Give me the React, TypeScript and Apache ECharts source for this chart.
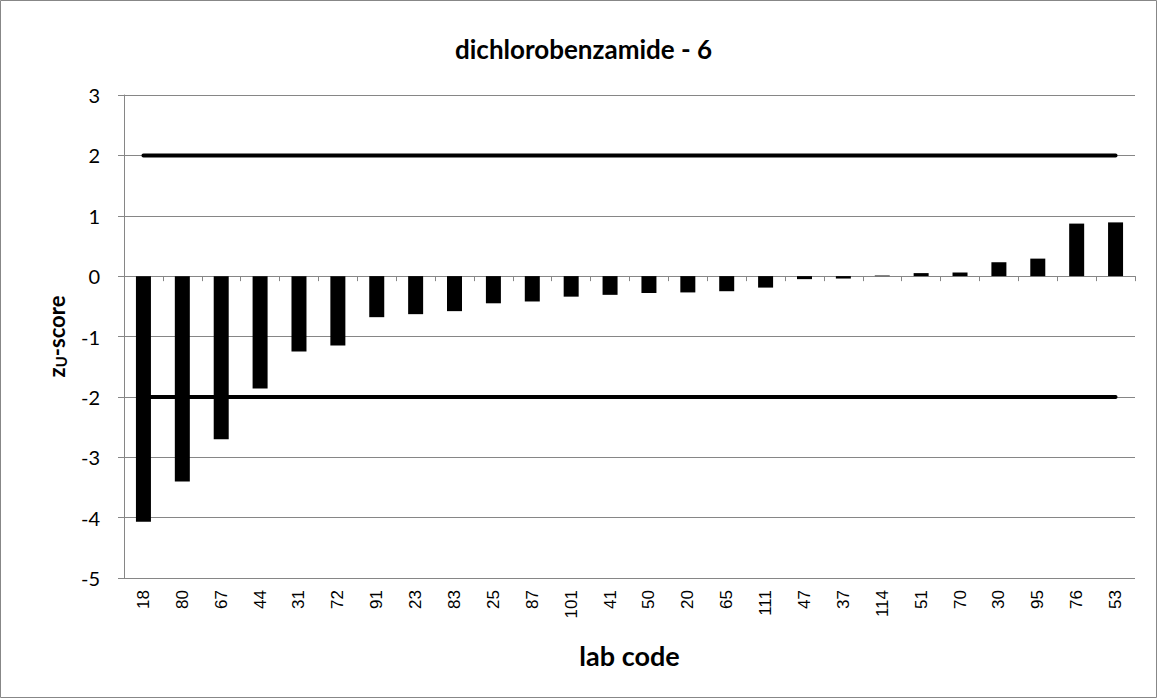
import React, { useEffect, useRef } from "react";
import * as echarts from "echarts";

const labCodes = ["18","80","67","44","31","72","91","23","83","25","87","101","41","50","20","65","111","47","37","114","51","70","30","95","76","53"];
const zScores = [-4.07,-3.4,-2.7,-1.86,-1.25,-1.15,-0.68,-0.63,-0.58,-0.45,-0.42,-0.34,-0.31,-0.28,-0.27,-0.25,-0.19,-0.05,-0.04,0.01,0.05,0.06,0.23,0.29,0.87,0.89];
const upperLimit = labCodes.map(() => 2);
const lowerLimit = labCodes.map(() => -2);
const yTicks = { min: -5, max: 3, interval: 1 };

const FONT = "Lato, 'Open Sans', sans-serif";
const TICK_FONT = "'Liberation Sans', Arial, sans-serif";

export default function App() {
  const ref = useRef<HTMLDivElement>(null);
  useEffect(() => {
    const chart = echarts.init(ref.current!, undefined, { renderer: "svg" });
    chart.setOption({
      animation: false,
      backgroundColor: "#fff",
      title: {
        text: "dichlorobenzamide - 6",
        left: 450,
        top: 31,
        textStyle: { fontFamily: FONT, fontSize: 26, fontWeight: "bold", color: "#000" },
      },
      graphic: [
        { type: "rect", shape: { x: 0.5, y: 0.5, width: 1156, height: 697 }, style: { fill: "none", stroke: "#878787", lineWidth: 1 }, silent: true },
      ],
      grid: { left: 124, right: 22, top: 95, bottom: 120 },
      xAxis: [
        {
          type: "category",
          data: labCodes,
          position: "bottom",
          axisLine: { show: false, onZero: false },
          axisTick: { show: false },
          axisLabel: { rotate: 90, interval: 0, fontFamily: TICK_FONT, fontSize: 17, color: "#000", margin: 12 },
          name: "lab code",
          nameLocation: "middle",
          nameGap: 64,
          nameTextStyle: { fontFamily: FONT, fontSize: 27, fontWeight: "bold", color: "#000" },
        },
        {
          type: "category",
          data: labCodes,
          position: "top",
          axisLine: { show: true, onZero: true, lineStyle: { color: "#868686", width: 1 } },
          axisTick: { show: true, inside: true, length: 5, interval: 0, lineStyle: { color: "#868686" } },
          axisLabel: { show: false },
        },
      ],
      yAxis: {
        type: "value",
        min: yTicks.min,
        max: yTicks.max,
        interval: yTicks.interval,
        axisLine: { show: true, lineStyle: { color: "#868686" } },
        axisTick: { show: true, length: 6, lineStyle: { color: "#868686" } },
        splitLine: { lineStyle: { color: "#868686", width: 1 } },
        axisLabel: { fontFamily: FONT, fontSize: 20, color: "#000", margin: 24 },
        name: "{a|z}{b|U}{a|-score}",
        nameLocation: "middle",
        nameGap: 56,
        nameTextStyle: {
          rich: {
            a: { fontFamily: FONT, fontSize: 22, fontWeight: "bold", color: "#000" },
            b: { fontFamily: FONT, fontSize: 15, fontWeight: "bold", color: "#000", padding: [9, 0, 0, 0] },
          },
        },
      },
      series: [
        {
          type: "bar",
          data: zScores,
          xAxisIndex: 0,
          barWidth: 15,
          itemStyle: { color: "#000" },
        },
        {
          type: "line",
          data: upperLimit,
          xAxisIndex: 0,
          symbol: "none",
          lineStyle: { color: "#000", width: 4, cap: "round" },
        },
        {
          type: "line",
          data: lowerLimit,
          xAxisIndex: 0,
          symbol: "none",
          lineStyle: { color: "#000", width: 4, cap: "round" },
        },
      ],
    });
    return () => chart.dispose();
  }, []);
  return <div ref={ref} style={{ position: "absolute", left: 0, top: 0, width: 1157, height: 698 }} />;
}
